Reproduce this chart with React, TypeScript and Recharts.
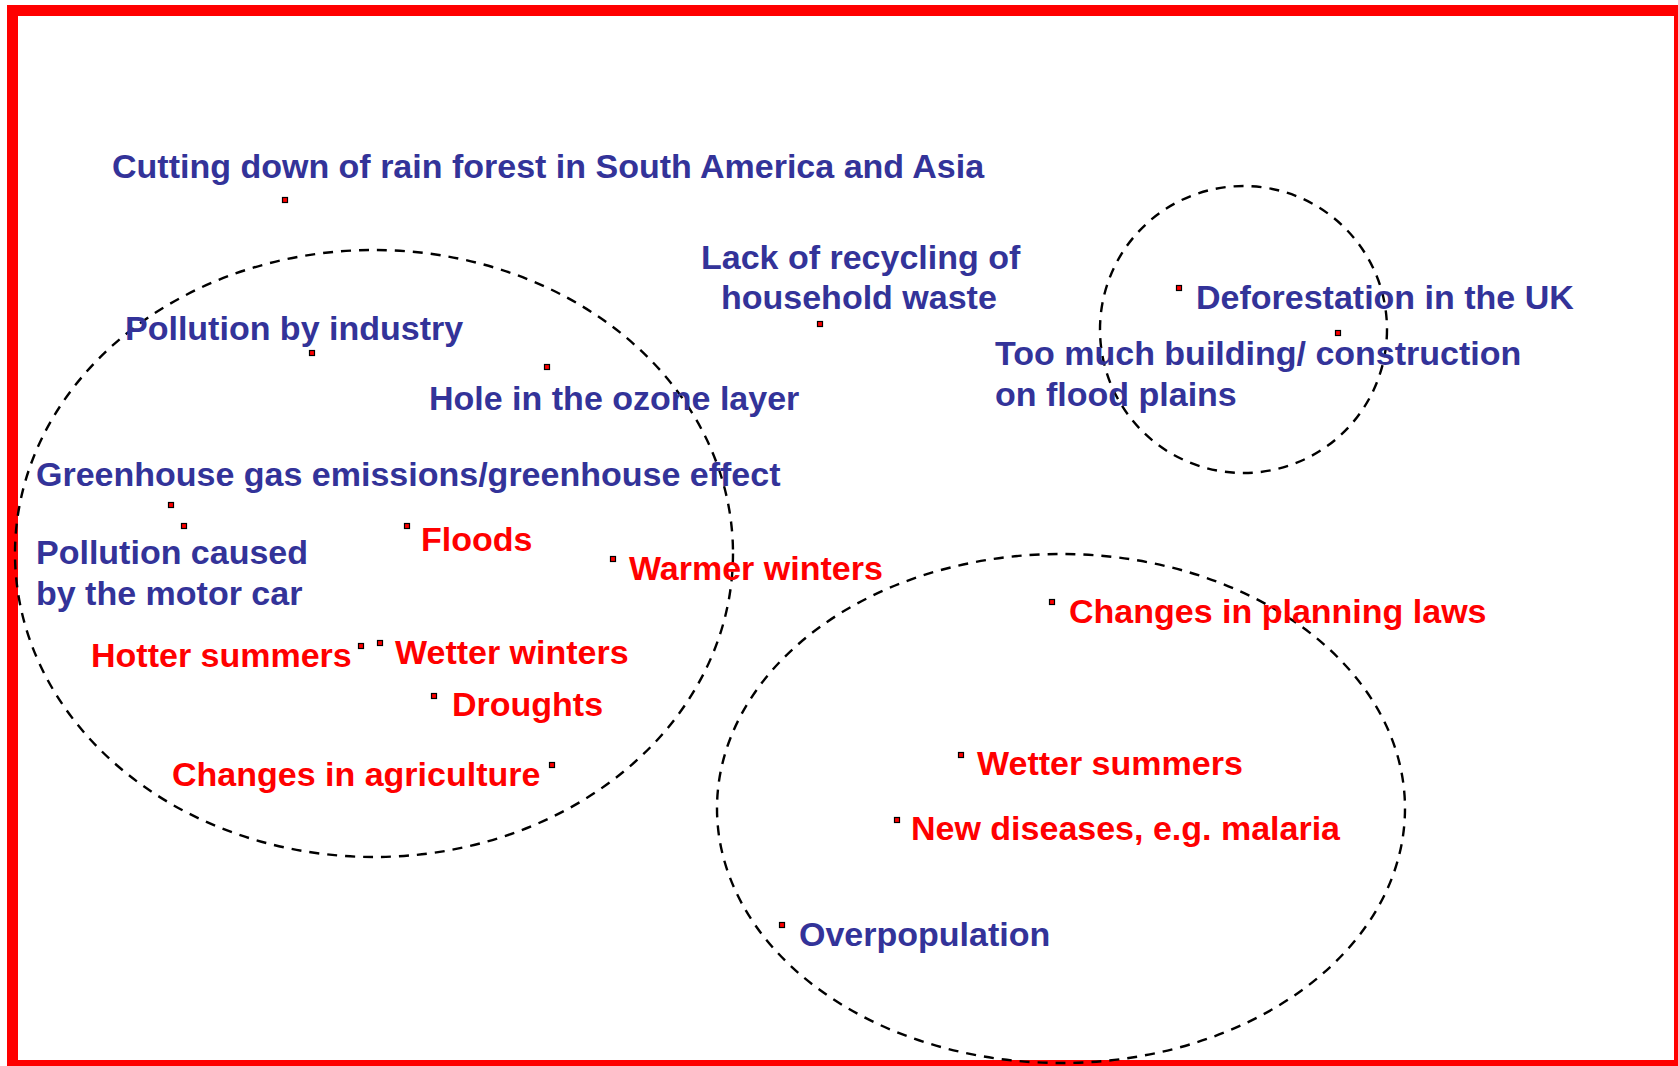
import { ScatterChart, Scatter, XAxis, YAxis, ReferenceArea } from 'recharts';

// picture units: x from the left edge, y from the top edge
const markerX = [285, 820, 1179, 1338, 312, 547, 171, 184, 407, 613, 361, 380, 434, 552, 1052, 961, 897, 782];
const markerY = [200, 324, 288, 333, 353, 367, 505, 526, 526, 559, 646, 643, 696, 765, 602, 755, 820, 925];

const causeLabels = [
  'Cutting down of rain forest in South America and Asia',
  'Lack of recycling of',
  'household waste',
  'Deforestation in the UK',
  'Too much building/ construction',
  'on flood plains',
  'Pollution by industry',
  'Hole in the ozone layer',
  'Greenhouse gas emissions/greenhouse effect',
  'Pollution caused',
  'by the motor car',
  'Overpopulation',
];
const causeX = [112, 701, 721, 1196, 995, 995, 125, 429, 36, 36, 36, 799];
const causeY = [178, 269, 309, 309, 365, 406, 340, 410, 486, 564, 605, 946];

const effectLabels = [
  'Floods',
  'Warmer winters',
  'Hotter summers',
  'Wetter winters',
  'Droughts',
  'Changes in agriculture',
  'Changes in planning laws',
  'Wetter summers',
  'New diseases, e.g. malaria',
];
const effectX = [421, 629, 91, 395, 452, 172, 1069, 977, 911];
const effectY = [551, 580, 667, 664, 716, 786, 623, 775, 840];

// groupings: left, top, right, bottom
const groupLeft = [15, 1100, 717];
const groupTop = [250, 186, 554];
const groupRight = [733, 1387, 1405];
const groupBottom = [857, 473, 1063];

const W = 1678;
const H = 1066;

const markers = markerX.map((x, i) => ({ x, y: markerY[i] }));
const causes = causeLabels.map((text, i) => ({ x: causeX[i], y: causeY[i], text }));
const effects = effectLabels.map((text, i) => ({ x: effectX[i], y: effectY[i], text }));

const labelShape = (color: string) => (props: any) => (
  <text
    x={props.cx}
    y={props.cy}
    fill={color}
    fontFamily="'Liberation Sans', Arial, sans-serif"
    fontWeight="bold"
    fontSize={34}
  >
    {props.payload.text}
  </text>
);

const markerShape = (props: any) => (
  <rect x={props.cx - 2.5} y={props.cy - 2.5} width={5} height={5} fill="#ff0000" stroke="#000" strokeWidth={1.2} />
);

const EllipseShape = (props: any) => {
  const { x, y, width, height } = props;
  return (
    <ellipse
      cx={x + width / 2}
      cy={y + height / 2}
      rx={Math.abs(width) / 2}
      ry={Math.abs(height) / 2}
      fill="none"
      stroke="#000"
      strokeWidth={2.4}
      strokeDasharray="10 8"
    />
  );
};

export default function App() {
  return (
    <div style={{ position: 'absolute', left: 0, top: 0, width: W, height: H, overflow: 'hidden', background: '#fff' }}>
      <div
        style={{
          position: 'absolute',
          left: 7,
          top: 5,
          width: W,
          height: H,
          border: '11px solid #ff0000',
          boxSizing: 'border-box',
        }}
      />
      <div style={{ position: 'absolute', left: 0, top: 0 }}>
        <ScatterChart width={W} height={H} margin={{ top: 0, right: 0, bottom: 0, left: 0 }}>
          <XAxis type="number" dataKey="x" domain={[0, W]} hide />
          <YAxis type="number" dataKey="y" domain={[0, H]} reversed hide />
          {groupLeft.map((l, i) => (
            <ReferenceArea
              key={i}
              x1={l}
              x2={groupRight[i]}
              y1={groupTop[i]}
              y2={groupBottom[i]}
              ifOverflow="visible"
              shape={<EllipseShape />}
            />
          ))}
          <Scatter data={causes} shape={labelShape('#333399')} isAnimationActive={false} />
          <Scatter data={effects} shape={labelShape('#ff0000')} isAnimationActive={false} />
          <Scatter data={markers} shape={markerShape} isAnimationActive={false} />
        </ScatterChart>
      </div>
    </div>
  );
}
